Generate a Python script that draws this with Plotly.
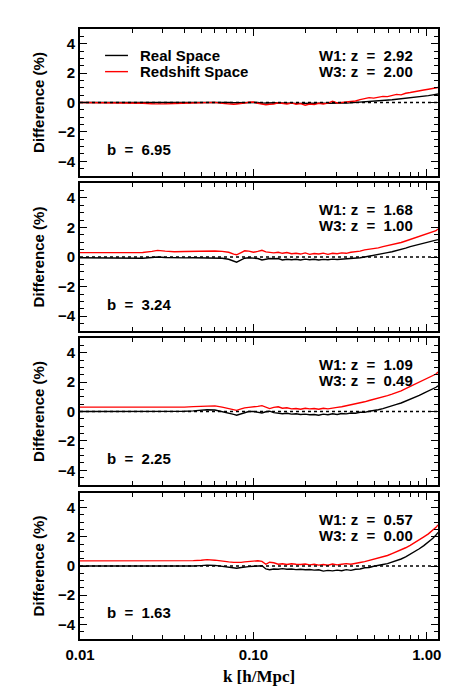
import math
import plotly.graph_objects as go

# ---------------- data ----------------
k = [0.010, 0.012, 0.014, 0.016, 0.018, 0.020, 0.023, 0.026, 0.028, 0.031, 0.035,
     0.040, 0.045, 0.050, 0.054, 0.060, 0.066, 0.072, 0.077, 0.080, 0.085, 0.089,
     0.094, 0.100, 0.106, 0.112, 0.118, 0.124, 0.131, 0.139, 0.147, 0.156, 0.166,
     0.176, 0.187, 0.199, 0.211, 0.224, 0.238, 0.253, 0.269, 0.286, 0.304, 0.323,
     0.343, 0.365, 0.388, 0.412, 0.438, 0.465, 0.494, 0.525, 0.558, 0.593, 0.630,
     0.669, 0.711, 0.755, 0.802, 0.852, 0.905, 0.961, 1.021, 1.084, 1.130, 1.160]

real_p1 = [0.00, 0.00, 0.00, 0.00, 0.00, 0.01, 0.02, 0.02, 0.02, 0.01, 0.00,
           0.00, 0.01, 0.03, 0.05, 0.05, 0.03, 0.00, -0.02, -0.02, 0.00, 0.02,
           0.03, 0.03, 0.00, -0.04, -0.05, -0.03, -0.02, -0.03, -0.05, -0.04, -0.05,
           -0.06, -0.05, -0.07, -0.05, -0.06, -0.04, -0.05, -0.06, -0.04, -0.05, -0.03,
           -0.04, -0.02, -0.01, 0.01, 0.03, 0.05, 0.08, 0.10, 0.14, 0.16, 0.19,
           0.22, 0.25, 0.28, 0.32, 0.35, 0.39, 0.43, 0.47, 0.52, 0.55, 0.58]
red_p1 = [0.00, 0.00, 0.00, -0.01, -0.02, -0.03, -0.05, -0.08, -0.10, -0.09, -0.07,
          -0.04, -0.02, 0.00, 0.02, 0.01, -0.06, -0.12, -0.12, -0.10, -0.08, -0.04,
          0.02, 0.03, -0.05, -0.12, -0.15, -0.12, -0.10, -0.02, -0.06, -0.10, -0.03,
          -0.12, -0.08, -0.18, -0.10, -0.14, -0.05, -0.10, -0.04, 0.08, -0.03, 0.00,
          0.06, 0.04, 0.10, 0.20, 0.28, 0.33, 0.30, 0.38, 0.42, 0.40, 0.48,
          0.55, 0.52, 0.63, 0.68, 0.72, 0.78, 0.85, 0.90, 0.95, 1.00, 1.02]

real_p2 = [-0.05, -0.05, -0.06, -0.07, -0.08, -0.10, -0.08, -0.03, 0.00, -0.03, -0.06,
           -0.06, -0.05, -0.05, -0.04, -0.05, -0.08, -0.15, -0.30, -0.35, -0.20, -0.08,
           -0.05, -0.05, -0.10, -0.20, -0.15, -0.10, -0.12, -0.10, -0.20, -0.15, -0.18,
           -0.15, -0.20, -0.14, -0.18, -0.15, -0.20, -0.16, -0.18, -0.14, -0.17, -0.15,
           -0.15, -0.12, -0.08, -0.05, 0.00, 0.05, 0.10, 0.16, 0.22, 0.30, 0.36,
           0.43, 0.52, 0.60, 0.70, 0.78, 0.86, 0.93, 1.00, 1.07, 1.12, 1.18]
red_p2 = [0.30, 0.30, 0.29, 0.29, 0.30, 0.30, 0.31, 0.38, 0.45, 0.40, 0.36,
          0.37, 0.38, 0.40, 0.42, 0.41, 0.38, 0.32, 0.20, 0.15, 0.30, 0.42,
          0.40, 0.32, 0.38, 0.45, 0.35, 0.30, 0.28, 0.32, 0.25, 0.30, 0.22,
          0.25, 0.20, 0.28, 0.18, 0.24, 0.20, 0.26, 0.18, 0.25, 0.22, 0.28,
          0.25, 0.32, 0.35, 0.40, 0.48, 0.52, 0.58, 0.62, 0.70, 0.76, 0.82,
          0.90, 0.98, 1.08, 1.18, 1.28, 1.38, 1.48, 1.58, 1.68, 1.78, 1.90]

real_p3 = [0.00, 0.00, 0.00, 0.00, -0.01, -0.02, -0.02, -0.02, -0.01, 0.00, 0.00,
           0.02, 0.04, 0.08, 0.12, 0.10, 0.00, -0.08, -0.20, -0.25, -0.15, -0.05,
           0.00, 0.00, -0.05, -0.10, -0.02, 0.02, -0.08, -0.12, -0.15, -0.12, -0.18,
           -0.15, -0.20, -0.18, -0.22, -0.20, -0.25, -0.18, -0.22, -0.15, -0.20, -0.14,
           -0.16, -0.10, -0.12, -0.05, -0.06, 0.02, 0.06, 0.12, 0.20, 0.28, 0.38,
           0.48, 0.58, 0.70, 0.85, 0.98, 1.10, 1.25, 1.38, 1.52, 1.65, 1.75]
red_p3 = [0.30, 0.30, 0.30, 0.29, 0.28, 0.27, 0.26, 0.26, 0.25, 0.26, 0.28,
          0.30, 0.33, 0.36, 0.40, 0.38, 0.30, 0.22, 0.12, 0.08, 0.18, 0.25,
          0.28, 0.30, 0.35, 0.40, 0.30, 0.20, 0.28, 0.32, 0.22, 0.25, 0.18,
          0.20, 0.15, 0.22, 0.18, 0.20, 0.15, 0.22, 0.18, 0.25, 0.28, 0.32,
          0.38, 0.45, 0.52, 0.60, 0.66, 0.75, 0.82, 0.90, 1.00, 1.08, 1.18,
          1.28, 1.40, 1.55, 1.70, 1.85, 1.98, 2.12, 2.28, 2.42, 2.55, 2.68]

real_p4 = [0.00, 0.01, 0.01, 0.02, 0.02, 0.02, 0.02, 0.01, 0.00, -0.01, -0.02,
           -0.02, 0.00, 0.03, 0.06, 0.04, -0.04, -0.10, -0.14, -0.15, -0.10, -0.06,
           -0.04, -0.02, 0.00, 0.02, -0.20, -0.25, -0.20, -0.22, -0.18, -0.22, -0.20,
           -0.25, -0.22, -0.26, -0.24, -0.28, -0.26, -0.35, -0.30, -0.33, -0.28, -0.32,
           -0.25, -0.30, -0.22, -0.20, -0.12, -0.10, -0.02, 0.02, 0.10, 0.16, 0.26,
           0.36, 0.48, 0.62, 0.80, 0.98, 1.18, 1.40, 1.62, 1.90, 2.12, 2.30]
red_p4 = [0.35, 0.35, 0.34, 0.34, 0.33, 0.32, 0.32, 0.33, 0.34, 0.34, 0.35,
          0.35, 0.37, 0.40, 0.44, 0.40, 0.32, 0.28, 0.25, 0.24, 0.25, 0.28,
          0.30, 0.34, 0.36, 0.32, 0.12, 0.26, 0.22, 0.12, 0.15, 0.10, 0.15,
          0.12, 0.10, 0.14, 0.08, 0.12, 0.06, 0.10, 0.05, 0.14, 0.08, 0.12,
          0.16, 0.12, 0.20, 0.24, 0.30, 0.38, 0.45, 0.55, 0.62, 0.72, 0.85,
          0.98, 1.10, 1.25, 1.42, 1.60, 1.80, 2.00, 2.20, 2.45, 2.65, 2.82]

real_series = [real_p1, real_p2, real_p3, real_p4]
red_series = [red_p1, red_p2, red_p3, red_p4]
b_values = ["6.95", "3.24", "2.25", "1.63"]
w1_z = ["2.92", "1.68", "1.09", "0.57"]
w3_z = ["2.00", "1.00", "0.49", "0.00"]
legend_names = ["Real Space", "Redshift Space"]
y_range = [-5, 5]
k_range = [0.01, 1.16]

# ---------------- figure ----------------
FONT = "Liberation Sans"
SERIF = "Liberation Serif"
SP = "\u00a0"
EQ = SP + SP + "=" + SP + SP
domains = [[0.7590, 1.0], [0.5049, 0.7475], [0.2525, 0.4934], [0.0, 0.2393]]

fig = go.Figure()
# page body has an 8px default margin, so the figure is 16px smaller than the window
layout = dict(
    width=455, height=679,
    margin=dict(l=72, r=25, t=21, b=48),
    paper_bgcolor="white", plot_bgcolor="white",
    showlegend=False,
    font=dict(family=FONT, size=15, color="black"),
)
shapes = []
annotations = []

for i in range(4):
    n = "" if i == 0 else str(i + 1)
    xa, ya = "x" + n, "y" + n
    fig.add_trace(go.Scatter(x=k, y=real_series[i], mode="lines",
                             line=dict(color="black", width=1.4),
                             xaxis=xa, yaxis=ya))
    fig.add_trace(go.Scatter(x=k, y=red_series[i], mode="lines",
                             line=dict(color="#ff0000", width=1.4),
                             xaxis=xa, yaxis=ya))
    layout["xaxis" + n] = dict(
        type="log", range=[math.log10(k_range[0]), math.log10(k_range[1])],
        domain=[0, 1], anchor=ya, automargin=False,
        showline=True, linecolor="black", linewidth=1.6, mirror="allticks",
        ticks="inside", ticklen=7, tickwidth=1.2, tickcolor="black",
        tickmode="linear", tick0=0, dtick=1, tickformat=".2f",
        showticklabels=(i == 3), ticklabelstandoff=1,
        tickfont=dict(family=FONT, size=15, weight="bold"),
        minor=dict(ticks="inside", ticklen=4, tickwidth=1.0, tickcolor="black",
                   dtick="D1", showgrid=False),
        showgrid=False, zeroline=False,
        title=dict(text="<b>k [h/Mpc]</b>" if i == 3 else "",
                   font=dict(family=SERIF, size=17), standoff=8),
    )
    if i != 0:
        layout["xaxis" + n]["matches"] = "x"
    layout["yaxis" + n] = dict(
        range=y_range, domain=domains[i], anchor=xa, automargin=False,
        showline=True, linecolor="black", linewidth=1.6, mirror="allticks",
        ticks="inside", ticklen=7, tickwidth=1.2, tickcolor="black",
        tickmode="linear", tick0=0, dtick=2,
        tickfont=dict(family=FONT, size=15, weight="bold"),
        minor=dict(ticks="inside", ticklen=4, tickwidth=1.0, tickcolor="black",
                   dtick=0.5, showgrid=False),
        showgrid=False, zeroline=False,
        title=dict(text="<b>Difference (%)</b>", font=dict(family=FONT, size=15),
                   standoff=10),
    )
    # dotted zero line
    shapes.append(dict(type="line", xref=xa + " domain", yref=ya,
                       x0=0, x1=1, y0=0, y1=0,
                       line=dict(color="black", width=1.3, dash="dot")))
    # labels
    annotations.append(dict(xref=xa + " domain", yref=ya, x=0.07, y=-3.2,
                            text="<b>b" + EQ + b_values[i] + "</b>",
                            showarrow=False, xanchor="left", yanchor="middle",
                            font=dict(size=15)))
    annotations.append(dict(xref=xa + " domain", yref=ya, x=0.935, y=3.2,
                            text="<b>W1:" + SP + "z" + EQ + w1_z[i] + "</b>",
                            showarrow=False, xanchor="right", yanchor="middle",
                            font=dict(size=15)))
    annotations.append(dict(xref=xa + " domain", yref=ya, x=0.935, y=2.1,
                            text="<b>W3:" + SP + "z" + EQ + w3_z[i] + "</b>",
                            showarrow=False, xanchor="right", yanchor="middle",
                            font=dict(size=15)))

# legend in the top panel
for j, (col, yv) in enumerate([("black", 3.2), ("#ff0000", 2.1)]):
    shapes.append(dict(type="line", xref="x domain", yref="y",
                       x0=0.07, x1=0.134, y0=yv, y1=yv,
                       line=dict(color=col, width=1.4)))
    annotations.append(dict(xref="x domain", yref="y", x=0.162, y=yv,
                            text="<b>" + legend_names[j] + "</b>",
                            showarrow=False, xanchor="left", yanchor="middle",
                            font=dict(size=15)))

layout["shapes"] = shapes
layout["annotations"] = annotations
fig.update_layout(**layout)
fig.write_html("out.html")
